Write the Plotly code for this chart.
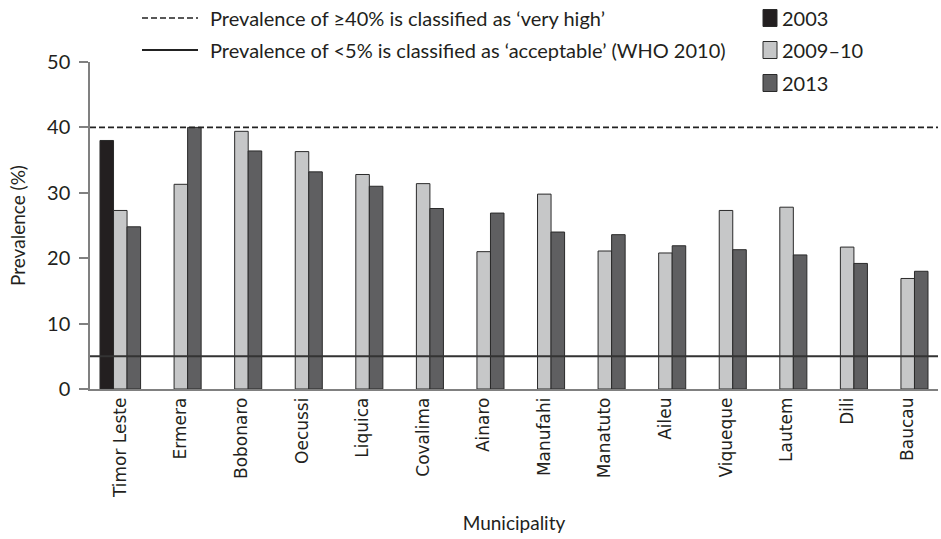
import plotly.graph_objects as go

municipalities = ["Timor Leste", "Ermera", "Bobonaro", "Oecussi", "Liquica", "Covalima",
                  "Ainaro", "Manufahi", "Manatuto", "Aileu", "Viqueque", "Lautem", "Dili", "Baucau"]
v2003 = [38.0, None, None, None, None, None, None, None, None, None, None, None, None, None]
v2009 = [27.3, 31.3, 39.4, 36.3, 32.8, 31.4, 21.0, 29.8, 21.1, 20.8, 27.3, 27.8, 21.7, 16.9]
v2013 = [24.8, 40.0, 36.4, 33.2, 31.0, 27.6, 26.9, 24.0, 23.6, 21.9, 21.3, 20.5, 19.2, 18.0]
series_names = ["2003", "2009–10", "2013"]
series_colors = ["#231f20", "#c6c7c8", "#5f5f61"]
very_high = 40
acceptable = 5
ref_labels = ["Prevalence of ≥40% is classified as ‘very high’",
              "Prevalence of <5% is classified as ‘acceptable’ (WHO 2010)"]

LEG_FONT = "Lato, 'Open Sans', sans-serif"
TXT = "#231f20"

fig = go.Figure()
for name, vals, col in zip(series_names, [v2003, v2009, v2013], series_colors):
    fig.add_trace(go.Bar(x=municipalities, y=vals, name=name,
                         marker=dict(color=col, line=dict(color="#2a2a2a", width=1)),
                         showlegend=False))

fig.add_hline(y=very_high, line=dict(color="#222222", width=1.6, dash="6px,3px"), layer="above")
fig.add_hline(y=acceptable, line=dict(color="#333333", width=2), layer="above")

# legend (drawn manually)
W, H = 941, 539
ml, mr, mt, mb = 90, 3, 62, 150
pw, ph = W - ml - mr, H - mt - mb
def px_x(x):
    return (x - ml) / pw
def px_y(y):
    return (H - mb - y) / ph

for i, (lab, dash, yy) in enumerate(zip(ref_labels, ["6px,3px", "solid"], [18, 50])):
    fig.add_shape(type="line", xref="paper", yref="paper",
                  x0=px_x(142), x1=px_x(198), y0=px_y(yy), y1=px_y(yy),
                  line=dict(color="#222222", width=1.6 if dash != "solid" else 2, dash=dash))
    fig.add_annotation(xref="paper", yref="paper", x=px_x(208), y=px_y(yy), text=lab,
                       showarrow=False, xanchor="left", yanchor="middle",
                       font=dict(family=LEG_FONT, size=20, color=TXT))

for i, (name, col, yy) in enumerate(zip(series_names, series_colors, [18, 50, 83])):
    fig.add_shape(type="rect", xref="paper", yref="paper",
                  x0=px_x(763), x1=px_x(777), y0=px_y(yy - 8.5), y1=px_y(yy + 8.5),
                  fillcolor=col, line=dict(color="#2a2a2a", width=1))
    fig.add_annotation(xref="paper", yref="paper", x=px_x(780), y=px_y(yy), text=name,
                       showarrow=False, xanchor="left", yanchor="middle",
                       font=dict(family=LEG_FONT, size=20, color=TXT))

fig.update_layout(
    width=W, height=H,
    margin=dict(l=ml, r=mr, t=mt, b=mb, autoexpand=False),
    plot_bgcolor="white", paper_bgcolor="white",
    barmode="group", bargap=0.33, bargroupgap=0,
    font=dict(family=LEG_FONT, color=TXT),
)
fig.update_yaxes(range=[0, 50], tickvals=[0, 10, 20, 30, 40, 50], showgrid=False,
                 showline=True, linecolor="#808080", linewidth=1.5,
                 ticks="outside", ticklen=9, tickcolor="#808080", tickwidth=1.5,
                 ticklabelstandoff=5,
                 tickfont=dict(family=LEG_FONT, size=20, color=TXT),
                 title=dict(text="Prevalence (%)", standoff=16,
                            font=dict(family=LEG_FONT, size=19, color=TXT)),
                 zeroline=False, automargin=False)
fig.update_xaxes(tickangle=-90, showgrid=False, showline=True, linecolor="#808080", linewidth=1.5,
                 ticks="", tickfont=dict(family="DejaVu Sans", size=17, color=TXT),
                 title=dict(text="Municipality", standoff=20,
                            font=dict(family=LEG_FONT, size=19, color=TXT)),
                 automargin=False)

fig.write_html("out.html")
